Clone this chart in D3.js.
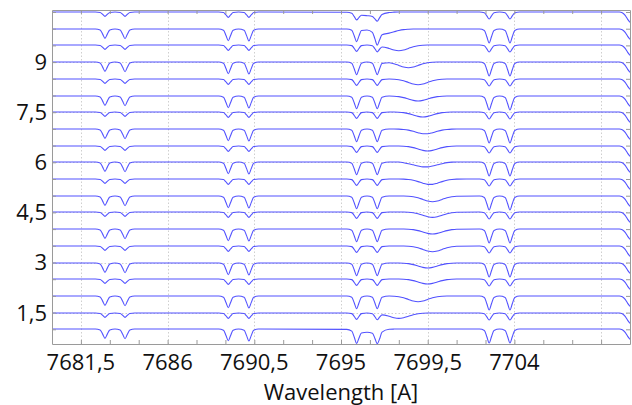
<!DOCTYPE html>
<head>
  <meta charset="utf-8">
  <script src="https://d3js.org/d3.v7.min.js"></script>
  <style>
    body { margin:0; background:#fff; }
    text { font-family: "Open Sans", sans-serif; fill:#111; }
  </style>
</head>
<body>
  <svg id="chart" width="632" height="405"></svg>
  <script>
    // wavelength grid left of the K I region (two O2 pairs) and continuum start
    const waveLeft = [7680, 7682.25, 7682.5, 7682.63, 7682.75, 7682.87, 7683.0, 7683.27, 7683.54, 7683.67, 7683.79, 7683.91, 7684.04, 7684.29,
                      7688.65, 7688.9, 7689.03, 7689.15, 7689.27, 7689.4, 7689.685, 7689.97, 7690.1, 7690.22, 7690.34, 7690.47, 7690.72];
    const deepLeft = [1, 1, 0.972, 0.846, 0.72, 0.846, 0.972, 1, 0.971, 0.84, 0.71, 0.84, 0.971,
                      1, 1, 0.965, 0.808, 0.65, 0.808, 0.965, 1, 0.964, 0.802, 0.64, 0.802, 0.964, 1];
    const shallowLeft = [1, 1, 0.987, 0.929, 0.87, 0.929, 0.987, 1, 0.987, 0.929, 0.87, 0.929, 0.987,
                         1, 1, 0.984, 0.912, 0.84, 0.912, 0.984, 1, 0.984, 0.912, 0.84, 0.912, 0.984, 1];

    // middle grid: third O2 pair + the moving broad line
    const waveMid = [7695.3, 7695.56, 7695.69, 7695.81, 7695.93, 7696.06, 7696.35, 7696.63, 7696.76, 7696.88, 7697.0, 7697.13,
                     7697.5, 7697.75, 7698.0, 7698.25, 7698.5, 7698.75, 7699.0, 7699.25, 7699.5, 7699.75, 7700.0, 7700.25, 7700.5, 7700.75, 7701.0];
    const pair3Deep = [1, 0.962, 0.791, 0.62, 0.791, 0.962, 1, 0.962, 0.791, 0.62, 0.791, 0.962];
    const pair3Shallow = [1, 0.981, 0.895, 0.81, 0.895, 0.981, 1, 0.981, 0.895, 0.81, 0.895, 0.981];

    // one row per spectrum, bottom (offset 0) to top
    const midFlux = [
      [0.99, 0.935, 0.752, 0.567, 0.725, 0.881, 0.901, 0.875, 0.718, 0.561, 0.699, 0.906, 0.991, 0.998, 1, 1, 1, 1, 1, 1, 1, 1, 1, 1, 1, 1, 1],
      [1, 0.981, 0.895, 0.81, 0.895, 0.981, 1, 0.978, 0.888, 0.796, 0.874, 0.944, 0.904, 0.859, 0.84, 0.859, 0.904, 0.949, 0.979, 0.994, 1, 1, 1, 1, 1, 1, 1],
      [...pair3Deep, 1, 0.993, 0.978, 0.946, 0.898, 0.85, 0.83, 0.85, 0.898, 0.946, 0.978, 0.993, 1, 1, 1],
      [...pair3Shallow, 1, 1, 1, 0.994, 0.98, 0.952, 0.91, 0.868, 0.85, 0.868, 0.91, 0.952, 0.98, 0.994, 1],
      [...pair3Deep, 1, 1, 1, 0.994, 0.98, 0.952, 0.91, 0.868, 0.85, 0.868, 0.91, 0.952, 0.98, 0.994, 1],
      [...pair3Shallow, 1, 1, 1, 1, 0.993, 0.978, 0.946, 0.898, 0.85, 0.83, 0.85, 0.898, 0.946, 0.978, 0.993],
      [...pair3Deep, 1, 1, 1, 1, 0.994, 0.98, 0.952, 0.91, 0.868, 0.85, 0.868, 0.91, 0.952, 0.98, 0.994],
      [...pair3Shallow, 1, 1, 1, 1, 0.994, 0.979, 0.949, 0.904, 0.859, 0.84, 0.859, 0.904, 0.949, 0.979, 0.994],
      [...pair3Deep, 1, 1, 1, 1, 0.993, 0.978, 0.946, 0.898, 0.85, 0.83, 0.85, 0.898, 0.946, 0.978, 0.993],
      [...pair3Shallow, 1, 1, 1, 0.997, 0.986, 0.962, 0.922, 0.874, 0.84, 0.84, 0.874, 0.922, 0.962, 0.986, 0.997],
      [...pair3Deep, 1, 1, 1, 0.98, 0.95, 0.915, 0.88, 0.855, 0.855, 0.88, 0.915, 0.95, 0.98, 0.995, 1],
      [...pair3Shallow, 1, 1, 1, 0.994, 0.98, 0.952, 0.91, 0.868, 0.85, 0.868, 0.91, 0.952, 0.98, 0.994, 1],
      [...pair3Deep, 1, 1, 0.997, 0.987, 0.966, 0.931, 0.889, 0.859, 0.859, 0.889, 0.931, 0.966, 0.987, 0.997, 1],
      [...pair3Shallow, 1, 1, 0.994, 0.98, 0.952, 0.91, 0.868, 0.85, 0.868, 0.91, 0.952, 0.98, 0.994, 1, 1],
      [...pair3Deep, 1, 0.994, 0.98, 0.952, 0.91, 0.868, 0.85, 0.868, 0.91, 0.952, 0.98, 0.994, 1, 1, 1],
      [...pair3Shallow, 1, 0.993, 0.978, 0.946, 0.898, 0.85, 0.83, 0.85, 0.898, 0.946, 0.978, 0.993, 1, 1, 1],
      [1, 0.962, 0.791, 0.62, 0.791, 0.962, 1, 0.962, 0.791, 0.62, 0.791, 0.959, 0.978, 0.946, 0.898, 0.85, 0.83, 0.85, 0.898, 0.946, 0.978, 0.993, 1, 1, 1, 1, 1],
      [1, 0.981, 0.895, 0.81, 0.895, 0.981, 1, 0.978, 0.888, 0.795, 0.873, 0.942, 0.898, 0.85, 0.83, 0.85, 0.898, 0.946, 0.978, 0.993, 1, 1, 1, 1, 1, 1, 1],
      [1, 0.962, 0.791, 0.62, 0.787, 0.953, 0.971, 0.897, 0.705, 0.516, 0.668, 0.83, 0.877, 0.916, 0.955, 0.982, 0.994, 1, 1, 1, 1, 1, 1, 1, 1, 1, 1],
      [0.993, 0.96, 0.862, 0.764, 0.832, 0.901, 0.889, 0.868, 0.791, 0.722, 0.823, 0.927, 0.984, 0.995, 1, 1, 1, 1, 1, 1, 1, 1, 1, 1, 1, 1, 1]
    ];

    // right part: fourth O2 pair and the line at the window edge
    const waveRight = [7702.19, 7702.44, 7702.57, 7702.69, 7702.81, 7702.94, 7703.23, 7703.52, 7703.65, 7703.77, 7703.89, 7704.02, 7704.27,
                       7709.45, 7709.6, 7709.75, 7709.88, 7710];
    const deepRight = [1, 0.958, 0.769, 0.58, 0.769, 0.958, 1, 0.958, 0.769, 0.58, 0.769, 0.958, 1, 1, 0.98, 0.9, 0.78, 0.69];
    const shallowRight = [1, 0.979, 0.885, 0.79, 0.885, 0.979, 1, 0.979, 0.885, 0.79, 0.885, 0.979, 1, 1, 0.98, 0.9, 0.78, 0.69];

    const offsets = [0, 0.5, 1, 1.5, 2, 2.5, 3, 3.5, 4, 4.5, 5, 5.5, 6, 6.5, 7, 7.5, 8, 8.5, 9, 9.5];
    const kinds = ["d","s","d","s","d","s","d","s","d","s","d","s","d","s","d","s","d","s","d","s"];

    const xMajor = [7681.5, 7686, 7690.5, 7695, 7699.5, 7704, 7708.5];
    const xLabels = ["7681,5", "7686", "7690,5", "7695", "7699,5", "7704", ""];
    const yMajor = [1.5, 3, 4.5, 6, 7.5, 9];
    const yLabels = ["1,5", "3", "4,5", "6", "7,5", "9"];

    const pL = 52, pR = 630, pT = 10, pB = 344;

    const x = d3.scaleLinear().domain([7680, 7710]).range([pL, pR]);
    const y = d3.scaleLinear().domain([0.56, 10.56]).range([pB, pT]);

    const svg = d3.select("#chart");

    svg.append("clipPath").attr("id", "clip")
      .append("rect").attr("x", pL).attr("y", pT)
      .attr("width", pR - pL).attr("height", pB - pT);

    // grid
    const grid = svg.append("g").attr("stroke", "#cfcfcf").attr("stroke-dasharray", "1.5,2").attr("stroke-width", 1);
    grid.selectAll(".gx").data(xMajor).join("line")
      .attr("x1", d => Math.round(x(d)) + 0.5).attr("x2", d => Math.round(x(d)) + 0.5)
      .attr("y1", pT).attr("y2", pB);
    grid.selectAll(".gy").data(yMajor).join("line")
      .attr("y1", d => Math.round(y(d)) + 0.5).attr("y2", d => Math.round(y(d)) + 0.5)
      .attr("x1", pL).attr("x2", pR);

    // spectra
    const series = offsets.map((off, i) => {
      const deep = kinds[i] === "d";
      const fl = (deep ? deepLeft : shallowLeft).concat(midFlux[i], deep ? deepRight : shallowRight);
      const wl = waveLeft.concat(waveMid, waveRight);
      return wl.map((w, j) => [w, fl[j] + off]);
    });

    const line = d3.line().x(d => x(d[0])).y(d => y(d[1])).curve(d3.curveMonotoneX);

    // shift each trace a fraction of a pixel so every continuum renders with the same soft weight
    svg.append("g").attr("clip-path", "url(#clip)")
      .selectAll("path").data(series).join("path")
      .attr("transform", (d, i) => {
        const base = y(1 + offsets[i]);
        return `translate(0,${Math.round(base) - base})`;
      })
      .attr("d", line)
      .attr("fill", "none")
      .attr("stroke", "#5252ff")
      .attr("stroke-width", 1.1);

    // axes with inward ticks on all four sides
    const xMinor = d3.range(7681.5, 7710, 1.5);
    const yMinor = d3.range(1, 10.6, 0.5);
    const frame = svg.append("g").attr("class", "frame");
    frame.append("g").attr("transform", `translate(0,${pB})`)
      .call(d3.axisBottom(x).tickValues(xMinor).tickSize(-4).tickSizeOuter(0).tickFormat(""));
    frame.append("g").attr("transform", `translate(0,${pT})`)
      .call(d3.axisTop(x).tickValues(xMinor).tickSize(-4).tickSizeOuter(0).tickFormat(""));
    frame.append("g").attr("transform", `translate(${pL},0)`)
      .call(d3.axisLeft(y).tickValues(yMinor).tickSize(-4).tickSizeOuter(0).tickFormat(""));
    frame.append("g").attr("transform", `translate(${pR},0)`)
      .call(d3.axisRight(y).tickValues(yMinor).tickSize(-4).tickSizeOuter(0).tickFormat(""));
    frame.selectAll("path, line").attr("stroke", "#9a9a9a");

    // tick labels
    svg.append("g").selectAll("text").data(xMajor).join("text")
      .attr("x", d => x(d)).attr("y", 370)
      .attr("text-anchor", "middle").attr("font-size", 22)
      .text((d, i) => xLabels[i]);
    svg.append("g").selectAll("text").data(yMajor).join("text")
      .attr("x", 47).attr("y", d => y(d)).attr("dy", "0.36em")
      .attr("text-anchor", "end").attr("font-size", 22)
      .text((d, i) => yLabels[i]);

    svg.append("text")
      .attr("x", (pL + pR) / 2).attr("y", 400)
      .attr("text-anchor", "middle").attr("font-size", 22)
      .text("Wavelength [A]");
  </script>
</body>
